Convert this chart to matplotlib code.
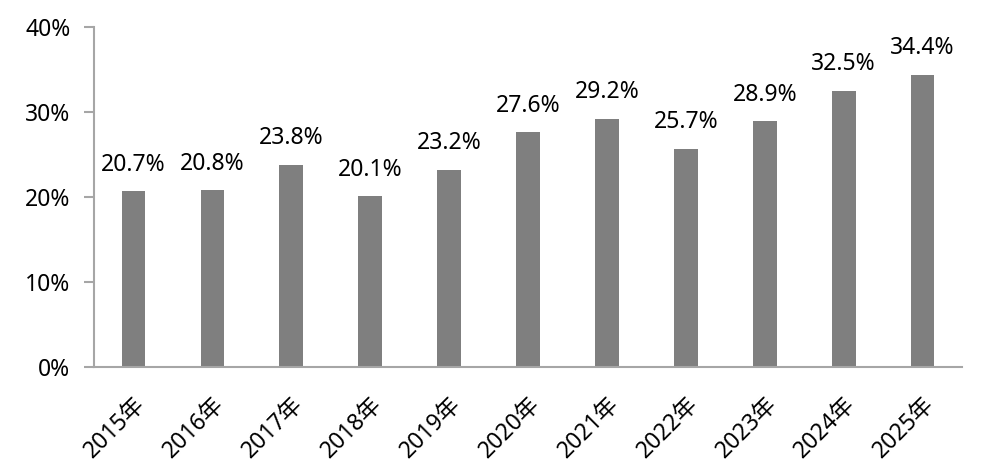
import matplotlib
matplotlib.use('Agg')
from matplotlib import pyplot as plt
import numpy as np

plt.rcParams['font.family'] = ['Noto Sans', 'Noto Sans CJK KR', 'DejaVu Sans']

years = ['2015年', '2016年', '2017年', '2018年', '2019年', '2020年',
         '2021年', '2022年', '2023年', '2024年', '2025年']
shares = [20.7, 20.8, 23.8, 20.1, 23.2, 27.6, 29.2, 25.7, 28.9, 32.5, 34.4]
yticks = [0, 10, 20, 30, 40]

fig = plt.figure(figsize=(9.82, 4.71), dpi=100)
ax = fig.add_axes([0.0957, 0.2208, 0.884, 0.722])

x = np.arange(len(years))
ax.bar(x, shares, width=0.3, color='#7f7f7f')
for xi, v in zip(x, shares):
    ax.text(xi, v + 2.4, f'{v:.1f}%', ha='center', va='baseline', fontsize=16.5)

ax.set_xlim(-0.5, len(years) - 0.5)
ax.set_ylim(0, 40)
ax.set_yticks(yticks)
ax.set_yticklabels([f'{t}%' for t in yticks], fontsize=16.5)
ax.set_xticks(x)
ax.set_xticklabels(years, fontsize=16.5, rotation=45, ha='right', rotation_mode='anchor')

for s in ['top', 'right']:
    ax.spines[s].set_visible(False)
for s in ['left', 'bottom']:
    ax.spines[s].set_color('#a6a6a6')
    ax.spines[s].set_linewidth(1.5)
ax.tick_params(axis='y', length=7, width=1.5, color='#a6a6a6', pad=10)
ax.tick_params(axis='x', length=0, pad=18)

fig.savefig('out.png', dpi=100)
